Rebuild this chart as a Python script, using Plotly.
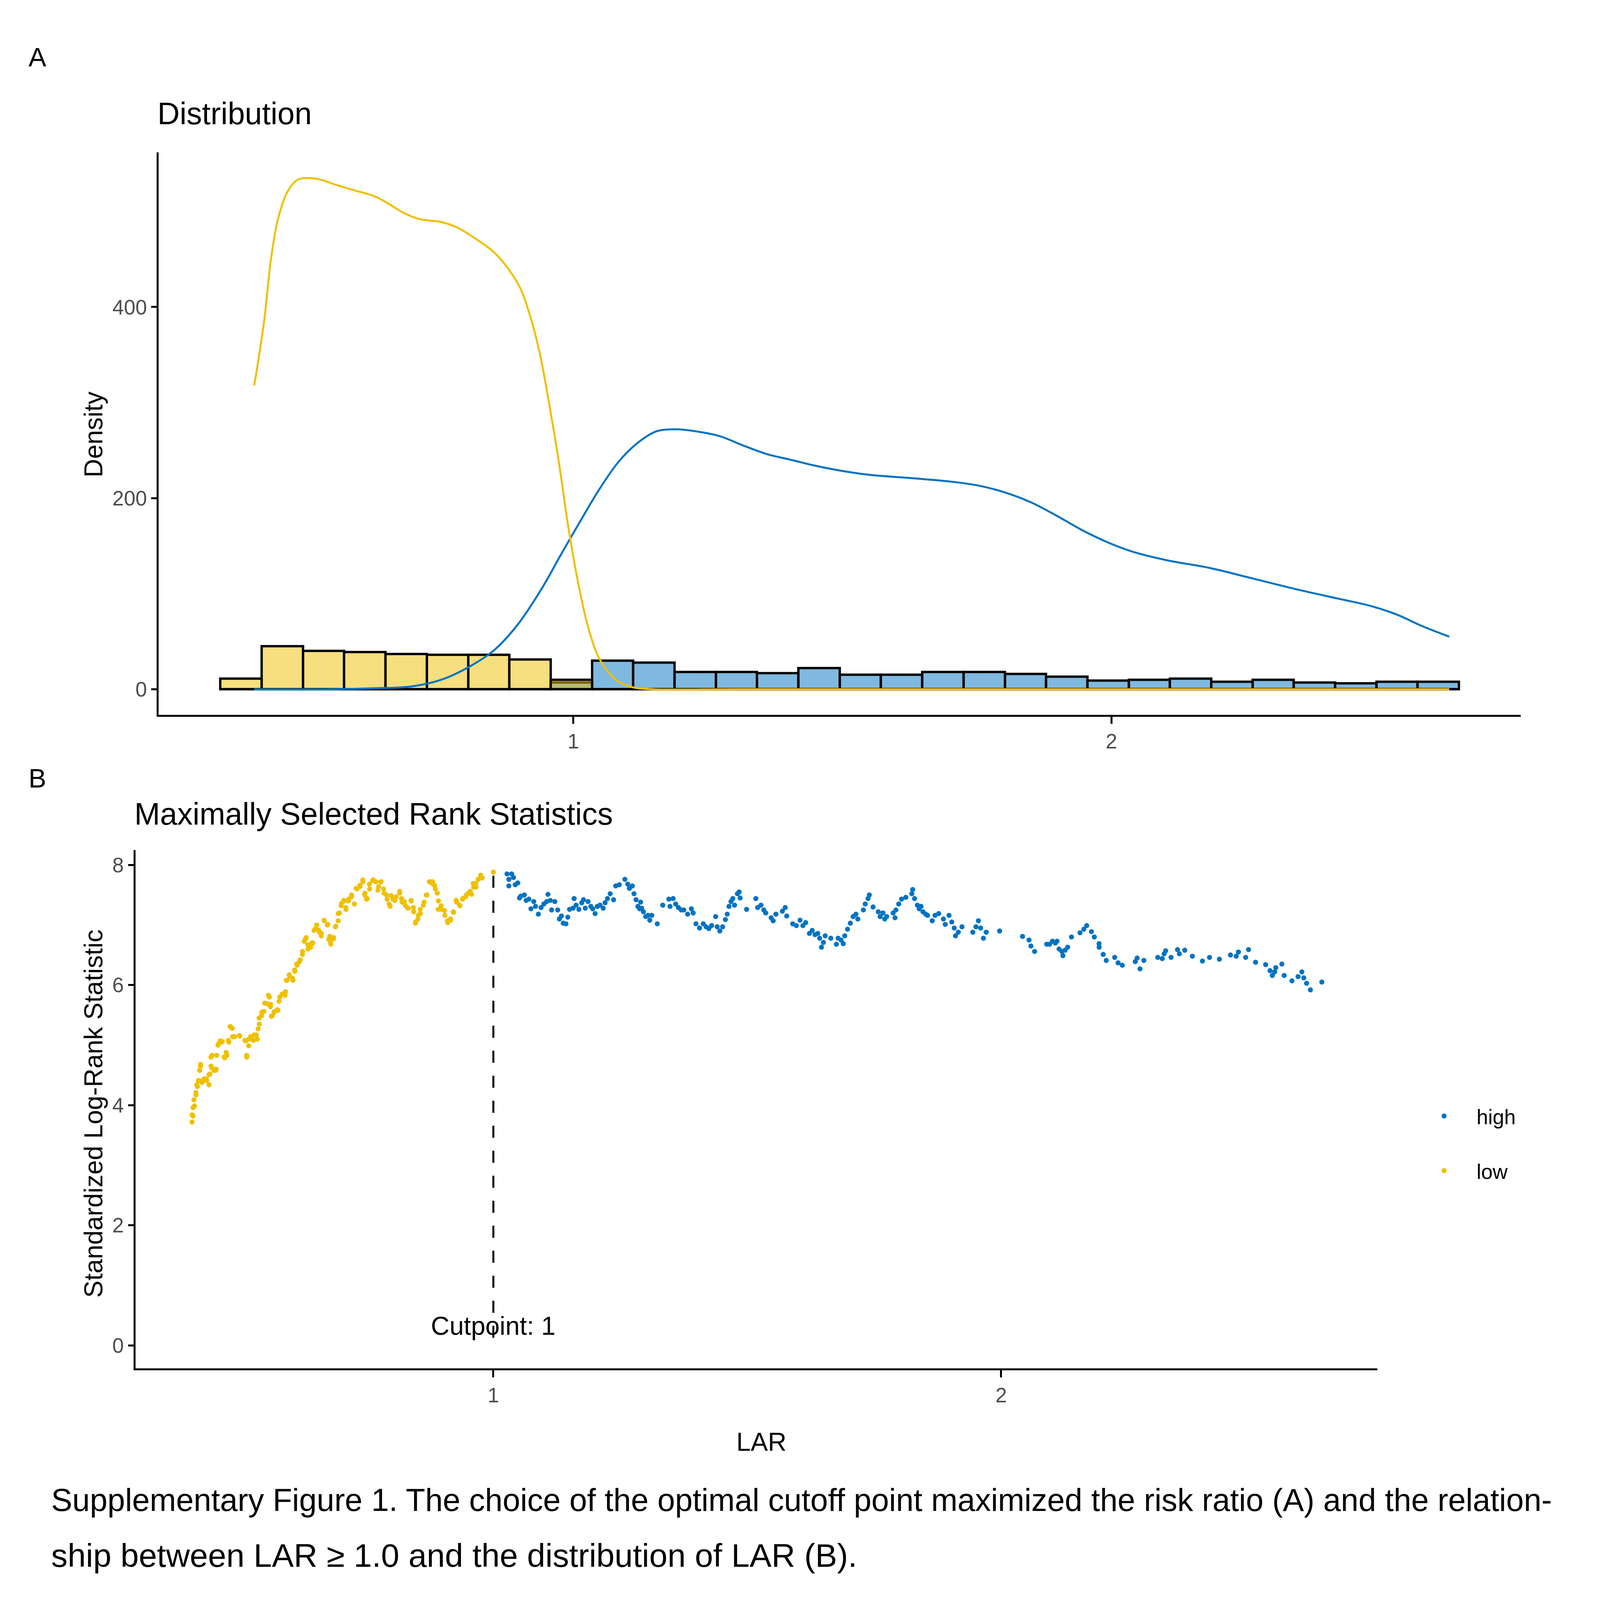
import numpy as np
import plotly.graph_objects as go

# the headless browser clamps the page to 4096 x 4096, so the figure fills that
# and every position is taken as a fraction of the 5735 x 4157 reference
W, H = 4096, 4096
REF_W, REF_H = 5735, 4157

# ---- panel A: histogram counts per bin (30 bins) ----
bin_edges = np.linspace(0.344, 2.646, 31)
low_counts = [11, 45, 40, 39, 37, 36, 36, 31, 10] + [0] * 21
high_counts = [0] * 8 + [7, 30, 28, 18, 18, 17, 22, 15, 15, 18, 18, 16, 13, 9, 10, 11, 8, 10, 7, 6, 8, 8]

# density curves
low_dens_x = [0.407, 0.425, 0.438, 0.451, 0.469, 0.487, 0.509, 0.532, 0.558, 0.594, 0.630, 0.657,
              0.683, 0.714, 0.754, 0.781, 0.817, 0.853, 0.879, 0.902, 0.919, 0.937, 0.955, 0.973,
              0.990, 1.008, 1.026, 1.044, 1.062, 1.084, 1.111, 1.146, 1.3, 1.6, 2.0, 2.4, 2.628]
low_dens_y = [318, 384, 450, 492, 521, 533, 535, 533, 528, 522, 516, 508,
              499, 492, 489, 484, 472, 457, 440, 419, 392, 353, 299, 238,
              172, 114, 68, 37, 20, 8, 2, 0, 0, 0, 0, 0, 0]
high_dens_x = [0.407, 0.55, 0.630, 0.701, 0.755, 0.808, 0.853, 0.897, 0.942, 0.977, 1.013, 1.048,
               1.084, 1.120, 1.155, 1.191, 1.227, 1.271, 1.316, 1.360, 1.405, 1.449, 1.494, 1.548,
               1.627, 1.706, 1.754, 1.802, 1.849, 1.897, 1.944, 1.992, 2.039, 2.103, 2.182, 2.262,
               2.341, 2.420, 2.483, 2.531, 2.578, 2.628]
high_dens_y = [0, 0, 1, 3, 10, 24, 41, 68, 106, 141, 176, 209,
               238, 258, 270, 272, 270, 265, 255, 246, 240, 234, 229, 224.5,
               221, 217, 213, 206, 196, 182, 167, 154, 144, 135, 127, 116,
               105, 95, 87, 78, 66, 55]

# ---- panel B: standardized log-rank statistic ----
low_lar = [0.4066, 0.4084, 0.4114, 0.4144, 0.4173, 0.4203, 0.4233, 0.4263, 0.4304, 0.4352, 0.4400,
           0.4441, 0.4459, 0.4501, 0.4542, 0.4578, 0.4620, 0.4661, 0.4709, 0.4738, 0.4780, 0.4816,
           0.4857, 0.4887, 0.5006, 0.5125, 0.5143, 0.5184, 0.5244, 0.5291, 0.5351, 0.5392, 0.5434,
           0.5482, 0.5541, 0.5589, 0.5612, 0.5648, 0.5690, 0.5749, 0.5779, 0.5838, 0.5898, 0.5939,
           0.5987, 0.6046, 0.6088, 0.6136, 0.6195, 0.6243, 0.6302, 0.6344, 0.6403, 0.6445, 0.6469,
           0.6522, 0.6564, 0.6611, 0.6671, 0.6730, 0.6778, 0.6801, 0.6849, 0.6897, 0.6944, 0.6968,
           0.7010, 0.7057, 0.7099, 0.7146, 0.7206, 0.7265, 0.7313, 0.7372, 0.7432, 0.7473, 0.7515,
           0.7562, 0.7622, 0.7681, 0.7741, 0.7788, 0.7848, 0.7907, 0.7967, 0.8026, 0.8086, 0.8157,
           0.8204, 0.8264, 0.8323, 0.8383, 0.8424, 0.8466, 0.8514, 0.8561, 0.8621, 0.8680, 0.8740,
           0.8799, 0.8858, 0.8918, 0.8977, 0.9037, 0.9096, 0.9156, 0.9215, 0.9275, 0.9334, 0.9394,
           0.9453, 0.9512, 0.9572, 0.9614, 0.9655, 0.9703, 0.9750, 0.9780, 1.0000,
           0.4067, 0.4085, 0.4104, 0.4141, 0.4160, 0.4190, 0.4234, 0.4216, 0.4271, 0.4346, 0.4401,
           0.4420, 0.4438, 0.4457, 0.4531, 0.4550, 0.4587, 0.4643, 0.4698, 0.4754, 0.4791, 0.4828,
           0.4866, 0.4903, 0.4996, 0.5107, 0.5144, 0.5181, 0.5218, 0.5274, 0.5330, 0.5367, 0.5387,
           0.5440, 0.5497, 0.5571, 0.5608, 0.5627, 0.5683, 0.5757, 0.5794, 0.5906, 0.5924, 0.5980,
           0.6054, 0.6091, 0.6128, 0.6184, 0.6240, 0.6277, 0.6314, 0.6351, 0.6426, 0.6500, 0.6574,
           0.6611, 0.6667, 0.6741, 0.6760, 0.6797, 0.6853, 0.6890, 0.6946, 0.7002, 0.7057, 0.7095,
           0.7150, 0.7206, 0.7262, 0.7298, 0.7373, 0.7429, 0.7466, 0.7503, 0.7559, 0.7633, 0.7689,
           0.7726, 0.7782, 0.7837, 0.7893, 0.7949, 0.7986, 0.8060, 0.8153, 0.8190, 0.8246, 0.8302,
           0.8376, 0.8432, 0.8469, 0.8525, 0.8562, 0.8636, 0.8692, 0.8748, 0.8803, 0.8840, 0.8896,
           0.8914, 0.8970, 0.9045, 0.9100, 0.9156, 0.9212, 0.9267, 0.9342, 0.9397, 0.9472, 0.9546,
           0.9602, 0.9658]
low_stat = [3.72, 3.82, 3.99, 4.17, 4.31, 4.41, 4.65, 4.38, 4.44, 4.41, 4.51,
            4.65, 4.83, 4.58, 4.60, 5.00, 5.07, 5.06, 4.79, 4.88, 5.08, 5.31,
            5.28, 5.14, 5.15, 5.07, 4.83, 5.10, 5.14, 5.17, 5.10, 5.35, 5.49,
            5.56, 5.69, 5.80, 5.68, 5.49, 5.56, 5.59, 5.73, 5.85, 5.83, 6.08,
            6.15, 6.11, 6.25, 6.33, 6.42, 6.56, 6.77, 6.67, 6.63, 6.70, 6.91,
            7.00, 6.91, 6.86, 7.07, 7.00, 6.81, 6.68, 6.77, 6.98, 7.07, 7.20,
            7.36, 7.40, 7.26, 7.40, 7.47, 7.35, 7.60, 7.64, 7.72, 7.53, 7.44,
            7.60, 7.74, 7.72, 7.64, 7.72, 7.53, 7.43, 7.31, 7.43, 7.47, 7.53,
            7.38, 7.33, 7.28, 7.40, 7.29, 7.03, 7.10, 7.19, 7.33, 7.50, 7.72,
            7.69, 7.60, 7.40, 7.26, 7.24, 7.07, 7.10, 7.21, 7.38, 7.33, 7.43,
            7.47, 7.53, 7.51, 7.63, 7.69, 7.76, 7.83, 7.78, 7.88,
            3.84, 3.96, 4.09, 4.21, 4.34, 4.41, 4.68, 4.58, 4.40, 4.44, 4.34,
            4.52, 4.80, 4.62, 4.58, 4.83, 5.02, 5.05, 4.80, 4.83, 5.05, 5.30,
            5.14, 5.14, 5.16, 5.08, 4.80, 4.99, 5.14, 5.08, 5.17, 5.27, 5.45,
            5.55, 5.70, 5.83, 5.64, 5.48, 5.55, 5.58, 5.80, 5.89, 6.08, 6.17,
            6.08, 6.23, 6.35, 6.39, 6.51, 6.73, 6.79, 6.60, 6.70, 6.94, 6.88,
            6.82, 7.08, 7.01, 6.76, 6.70, 6.79, 6.97, 7.19, 7.32, 7.41, 7.29,
            7.43, 7.50, 7.35, 7.61, 7.66, 7.75, 7.50, 7.43, 7.68, 7.75, 7.72,
            7.58, 7.72, 7.60, 7.50, 7.35, 7.49, 7.41, 7.56, 7.44, 7.39, 7.29,
            7.41, 7.22, 7.05, 7.16, 7.26, 7.38, 7.50, 7.72, 7.72, 7.66, 7.53,
            7.26, 7.32, 7.16, 7.04, 7.08, 7.22, 7.41, 7.32, 7.44, 7.50, 7.56,
            7.69, 7.63]

high_lar = [1.0269, 1.0305, 1.0305, 1.036, 1.0396, 1.043, 1.048, 1.0515, 1.054, 1.061, 1.0646, 1.070,
            1.074, 1.0795, 1.083, 1.0886, 1.094, 1.0995, 1.105, 1.1075, 1.112, 1.1147, 1.121, 1.1267,
            1.130, 1.134, 1.1376, 1.143, 1.1466, 1.150, 1.157, 1.159, 1.163, 1.1684, 1.174, 1.1775,
            1.181, 1.1866, 1.192, 1.1957, 1.2004, 1.2047, 1.210, 1.2163, 1.22, 1.2247, 1.230, 1.2367,
            1.241, 1.248, 1.259, 1.2646, 1.268, 1.2737, 1.277, 1.281, 1.2846, 1.288, 1.290, 1.292,
            1.2955, 1.300, 1.3045, 1.308, 1.312, 1.3227, 1.3336, 1.3456, 1.348, 1.354, 1.359, 1.3644,
            1.370, 1.375, 1.3826, 1.390, 1.3935, 1.399, 1.406, 1.4134, 1.419, 1.4243, 1.4298, 1.4377,
            1.4407, 1.446, 1.4515, 1.457, 1.4606, 1.464, 1.4679, 1.4715, 1.475, 1.4806, 1.484, 1.486,
            1.4987, 1.5169, 1.5205,
            1.527, 1.5326, 1.5363, 1.547, 1.551, 1.5564, 1.5692, 1.5747, 1.5777, 1.5894, 1.5967, 1.604,
            1.6096, 1.615, 1.6224, 1.6279, 1.6334, 1.6389, 1.6425, 1.6462, 1.65, 1.6535, 1.6645, 1.6755,
            1.679, 1.6847, 1.689, 1.692, 1.6975, 1.703, 1.7085, 1.714, 1.7177, 1.7287, 1.7323, 1.7378,
            1.7404, 1.7478, 1.758, 1.7617, 1.7672, 1.7708, 1.7745, 1.7873, 1.791, 1.7928, 1.7983, 1.8038,
            1.8123, 1.824, 1.8258, 1.8295, 1.835, 1.8386, 1.8423, 1.846, 1.8515, 1.855, 1.8643, 1.8698,
            1.877, 1.8863, 1.89, 1.8973, 1.9028, 1.9076, 1.9101, 1.9156, 1.9229, 1.9442, 1.9504, 1.9552,
            1.9596, 1.9651, 1.9706, 1.997, 2.0421, 2.0549, 2.0586, 2.0659, 2.0897,
            2.0953, 2.101, 2.1066, 2.110, 2.114, 2.1197, 2.1216, 2.126, 2.131, 2.1385, 2.1553, 2.1628,
            2.1685, 2.1778, 2.1835, 2.1928, 2.1930, 2.201, 2.207, 2.2236, 2.2303, 2.2386, 2.2641, 2.2678,
            2.2735, 2.281, 2.3083, 2.3173, 2.321, 2.324, 2.3346, 2.3473, 2.351, 2.3616, 2.3766, 2.3964,
            2.4103, 2.4298, 2.4516, 2.4628, 2.4673, 2.4815, 2.4872, 2.501, 2.5209, 2.5295, 2.534, 2.5386,
            2.5408, 2.5528, 2.5573, 2.5727, 2.5847, 2.5922, 2.596, 2.6015, 2.609, 2.6315]
high_stat = [7.85, 7.76, 7.65, 7.85, 7.79, 7.67, 7.70, 7.45, 7.48, 7.50, 7.41, 7.43,
             7.27, 7.39, 7.31, 7.18, 7.29, 7.35, 7.39, 7.51, 7.41, 7.25, 7.39, 7.25,
             7.10, 7.15, 7.03, 7.02, 7.13, 7.26, 7.28, 7.44, 7.33, 7.26, 7.37, 7.42,
             7.28, 7.39, 7.31, 7.27, 7.19, 7.31, 7.33, 7.28, 7.37, 7.44, 7.52, 7.42,
             7.65, 7.67, 7.76, 7.68, 7.61, 7.65, 7.52, 7.42, 7.31, 7.27, 7.38, 7.28,
             7.22, 7.14, 7.16, 7.08, 7.16, 7.02, 7.33, 7.43, 7.31, 7.44, 7.35, 7.29,
             7.25, 7.25, 7.18, 7.27, 7.20, 7.02, 6.95, 7.02, 6.97, 6.94, 6.99, 7.14,
             6.97, 6.90, 6.97, 7.09, 7.18, 7.31, 7.39, 7.44, 7.33, 7.52, 7.55, 7.45,
             7.26, 7.44, 7.29,
             7.33, 7.25, 7.20, 7.12, 7.07, 7.18, 7.23, 7.29, 7.15, 7.02, 6.99, 7.08,
             6.99, 7.04, 6.86, 6.91, 6.84, 6.86, 6.78, 6.63, 6.71, 6.82, 6.78, 6.68,
             6.78, 6.75, 6.69, 6.82, 6.93, 7.03, 7.14, 7.18, 7.10, 7.25, 7.35, 7.44,
             7.50, 7.30, 7.22, 7.14, 7.20, 7.10, 7.14, 7.20, 7.12, 7.25, 7.35, 7.43,
             7.46, 7.52, 7.59, 7.44, 7.33, 7.27, 7.31, 7.22, 7.18, 7.16, 7.07, 7.16,
             7.19, 7.10, 7.01, 7.16, 7.05, 6.95, 6.82, 6.88, 6.97, 6.88, 6.97, 7.07,
             6.95, 6.78, 6.88, 6.90, 6.81, 6.75, 6.65, 6.56, 6.68,
             6.68, 6.73, 6.70, 6.73, 6.60, 6.56, 6.49, 6.58, 6.63, 6.80, 6.87, 6.93,
             6.99, 6.89, 6.80, 6.69, 6.63, 6.51, 6.41, 6.46, 6.37, 6.33, 6.39, 6.45,
             6.27, 6.41, 6.46, 6.44, 6.52, 6.57, 6.46, 6.59, 6.52, 6.58, 6.48, 6.40,
             6.46, 6.43, 6.50, 6.48, 6.55, 6.46, 6.59, 6.38, 6.34, 6.24, 6.16, 6.22,
             6.29, 6.35, 6.16, 6.07, 6.14, 6.22, 6.12, 6.03, 5.92, 6.05]

cutpoint = 1.0

BLUE = "#0073C2"
YELLOW = "#EFC000"
FONT = "Liberation Sans, Arial, sans-serif"
GREY = "#4D4D4D"


def px(x):
    return x / REF_W


def py(y):
    return 1 - y / REF_H


bin_centers = (bin_edges[:-1] + bin_edges[1:]) / 2
bin_width = bin_edges[1] - bin_edges[0]

fig = go.Figure()

# histogram bars (high first, low drawn on top like ggplot)
fig.add_trace(go.Bar(x=bin_centers, y=high_counts, width=bin_width,
                     marker=dict(color="rgba(0,115,194,0.5)", line=dict(color="black", width=6)),
                     xaxis="x", yaxis="y", showlegend=False))
fig.add_trace(go.Bar(x=bin_centers, y=low_counts, width=bin_width,
                     marker=dict(color="rgba(239,192,0,0.5)", line=dict(color="black", width=6)),
                     xaxis="x", yaxis="y", showlegend=False))

# density lines
fig.add_trace(go.Scatter(x=high_dens_x, y=high_dens_y, mode="lines", line=dict(color=BLUE, width=5, shape="spline"),
                         xaxis="x", yaxis="y", showlegend=False))
fig.add_trace(go.Scatter(x=low_dens_x, y=low_dens_y, mode="lines", line=dict(color=YELLOW, width=5, shape="spline"),
                         xaxis="x", yaxis="y", showlegend=False))

# cutpoint segment
stat_max = max(low_stat + high_stat)
fig.add_trace(go.Scatter(x=[cutpoint, cutpoint], y=[stat_max - 0.06, 0], mode="lines",
                         line=dict(color="black", width=5, dash="31px,33px"),
                         xaxis="x2", yaxis="y2", showlegend=False))

# points
fig.add_trace(go.Scatter(x=high_lar, y=high_stat, mode="markers", name="high",
                         marker=dict(color=BLUE, size=13), xaxis="x2", yaxis="y2",
                         legendgroup="high"))
fig.add_trace(go.Scatter(x=low_lar, y=low_stat, mode="markers", name="low",
                         marker=dict(color=YELLOW, size=13), xaxis="x2", yaxis="y2",
                         legendgroup="low"))

axis_style = dict(showline=True, linecolor="black", linewidth=5, ticks="outside", tickcolor="black",
                  tickwidth=5, showgrid=False, zeroline=False,
                  tickfont=dict(family=FONT, size=53, color=GREY))

fig.update_layout(
    width=W, height=H, margin=dict(l=0, r=0, t=0, b=0),
    paper_bgcolor="white", plot_bgcolor="white",
    barmode="overlay", bargap=0,
    font=dict(family=FONT, color="black"),
    xaxis=dict(domain=[px(557), px(5440)], range=[0.229, 2.761], tickvals=[1, 2], ticklen=18,
               anchor="y", **axis_style),
    yaxis=dict(domain=[py(1849), py(388)], range=[-26.75, 561.75], tickvals=[0, 200, 400], ticklen=14,
               anchor="x", **axis_style),
    xaxis2=dict(domain=[px(474), px(4926)], range=[0.295, 2.741], tickvals=[1, 2], ticklen=18,
                anchor="y2", **axis_style),
    yaxis2=dict(domain=[py(3547), py(2200)], range=[-0.38, 8.25], tickvals=[0, 2, 4, 6, 8], ticklen=14,
                anchor="x2", **axis_style),
    showlegend=True,
    legend=dict(x=px(5165) - 83 / W, y=1 - 2808 / H, xanchor="left", yanchor="top",
                font=dict(family=FONT, size=53, color="black"),
                traceorder="grouped", tracegroupgap=68, itemwidth=156,
                bgcolor="rgba(0,0,0,0)"),
)

ann = [
    dict(text="A", x=px(88), y=py(140), xanchor="left", yanchor="middle", font=dict(size=68)),
    dict(text="B", x=px(88), y=py(2014), xanchor="left", yanchor="middle", font=dict(size=68)),
    dict(text="Distribution", x=px(550), y=py(287), xanchor="left", yanchor="middle", font=dict(size=79)),
    dict(text="Maximally Selected Rank Statistics", x=px(468), y=py(2106), xanchor="left",
         yanchor="middle", font=dict(size=79)),
    dict(text="Density", x=px(323), y=py(1121), textangle=-90, xanchor="center", yanchor="middle",
         font=dict(size=66)),
    dict(text="Standardized Log-Rank Statistic", x=px(323), y=py(2885), textangle=-90,
         xanchor="center", yanchor="middle", font=dict(size=66)),
    dict(text="LAR", x=px(2717), y=py(3738), xanchor="center", yanchor="middle", font=dict(size=66)),
    dict(text="Supplementary Figure 1. The choice of the optimal cutoff point maximized the risk ratio (A) and the relation-",
         x=px(170), y=py(3889), xanchor="left", yanchor="middle", font=dict(size=81)),
    dict(text="ship between LAR \u2265 1.0 and the distribution of LAR (B).",
         x=px(170), y=py(4033), xanchor="left", yanchor="middle", font=dict(size=84)),
]
for a in ann:
    a.update(xref="paper", yref="paper", showarrow=False)
    a["font"].update(family=FONT, color="black")

ann.append(dict(text="Cutpoint: 1", x=cutpoint, y=0.33, xref="x2", yref="y2", showarrow=False,
                xanchor="center", yanchor="middle", font=dict(family=FONT, size=66, color="black")))

fig.update_layout(annotations=ann)

fig.write_html("out.html")
